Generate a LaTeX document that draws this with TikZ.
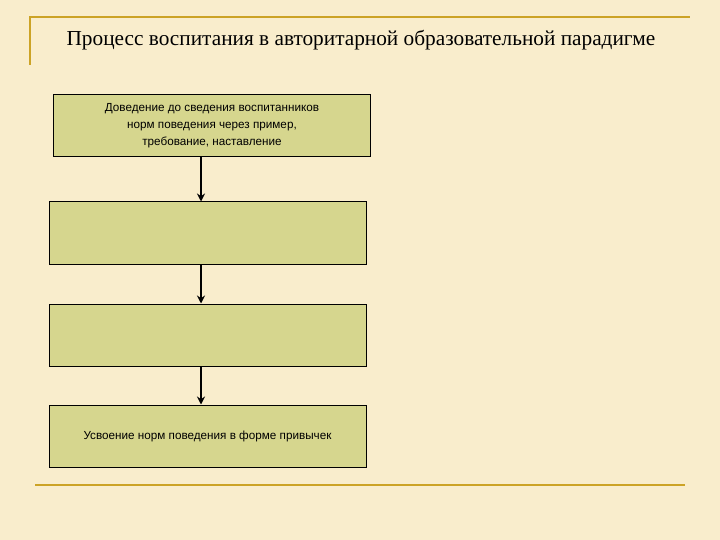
\documentclass[tikz,border=0pt]{standalone}
\usepackage{fontspec}
\setmainfont{Liberation Sans}
\newfontfamily\titlefont{Liberation Serif}
\usetikzlibrary{arrows.meta}
\definecolor{bg}{RGB}{249,237,204}
\definecolor{gold}{RGB}{204,163,38}
\definecolor{boxfill}{RGB}{214,214,142}
\tikzset{
  stepbox/.style={draw=black, line width=1pt, fill=boxfill, minimum width=317pt, minimum height=62pt, align=center, font=\fontsize{11.7}{17}\selectfont, inner sep=2pt},
  flow/.style={line width=2.2pt, -{Stealth[length=8pt,width=8pt]}},
  rule/.style={gold, line width=2.5pt}
}
\begin{document}
\begin{tikzpicture}[x=1pt,y=-1pt]
\fill[bg] (0,0) rectangle (720,540);
\useasboundingbox (0,0) rectangle (720,540);
\coordinate (tl) at (30,17);
\coordinate (tr) at (690,17);
\coordinate (lb) at (30,65);
\coordinate (bl) at (35,485);
\coordinate (br) at (685,485);
\draw[rule] (lb) -- (tl) -- (tr);
\draw[rule] (bl) -- (br);
\node[font=\titlefont\fontsize{21.3}{25}\selectfont] (title) at (361,40) {Процесс воспитания в авторитарной образовательной парадигме};
\node[stepbox] (b1) at (212,126) {Доведение до сведения воспитанников\\норм поведения через пример,\\требование, наставление};
\node[stepbox] (b2) at (207.5,233) {};
\node[stepbox] (b3) at (207.5,335) {};
\node[stepbox] (b4) at (207.5,436) {Усвоение норм поведения в форме привычек};
\draw[flow] (b1.south -| 201,0) -- (b2.north -| 201,0);
\draw[flow] (b2.south -| 201,0) -- (b3.north -| 201,0);
\draw[flow] (b3.south -| 201,0) -- (b4.north -| 201,0);
\end{tikzpicture}
\end{document}
